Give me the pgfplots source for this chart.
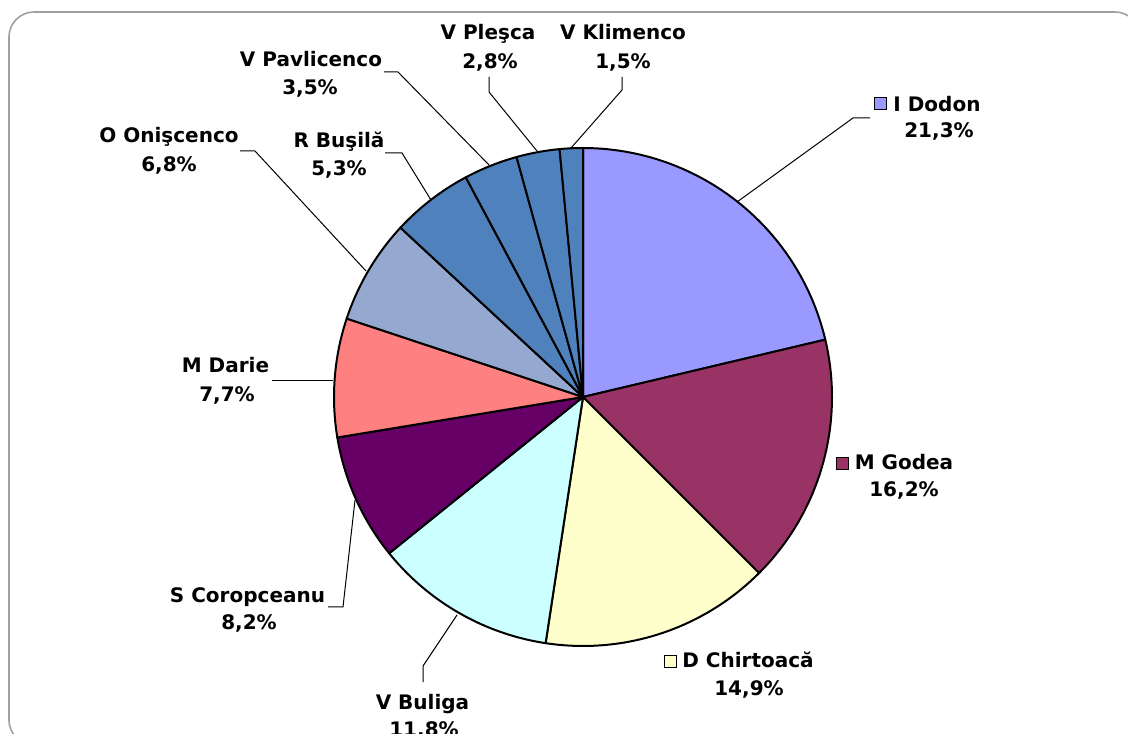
\documentclass[border=0pt]{standalone}
\usepackage{fontspec}
\setmainfont{DejaVu Sans}
\usepackage{pgfplots}
\usepackage{pgfplotstable}
\pgfplotsset{compat=1.18}

\definecolor{sc0}{HTML}{9999FF}
\definecolor{sc1}{HTML}{993366}
\definecolor{sc2}{HTML}{FFFFCC}
\definecolor{sc3}{HTML}{CCFFFF}
\definecolor{sc4}{HTML}{660066}
\definecolor{sc5}{HTML}{FF8080}
\definecolor{sc6}{HTML}{95A9D0}
\definecolor{sc7}{HTML}{4F81BD}
\definecolor{sc8}{HTML}{4F81BD}
\definecolor{sc9}{HTML}{4F81BD}
\definecolor{sc10}{HTML}{4F81BD}
\definecolor{framegray}{HTML}{A0A0A0}

% candidate shares, clockwise from 12 o'clock
\pgfplotstableread{
name pct
IDodon 21.3
MGodea 16.2
DChirtoaca 14.9
VBuliga 11.8
SCoropceanu 8.2
MDarie 7.7
OOniscenco 6.8
RBusila 5.3
VPavlicenco 3.5
VPlesca 2.8
VKlimenco 1.5
}\piedata

\begin{document}
\begin{tikzpicture}[font=\fontsize{10}{12}\selectfont\bfseries]
\begin{axis}[
  x=0.5pt, y=0.5pt,
  xmin=0, xmax=1128, ymin=0, ymax=733,
  hide axis, clip=false,
  anchor=south west, at={(0,0)},
]
% frame
\draw[framegray, line width=0.8pt, rounded corners=12.5pt]
  (axis cs:9,721) rectangle (axis cs:1140,-12);

% slices
\def\cum{0}
\pgfplotsforeachungrouped \i in {0,...,10}{%
  \pgfplotstablegetelem{\i}{pct}\of\piedata
  \let\p\pgfplotsretval
  \pgfmathsetmacro\a{\cum}%
  \pgfmathsetmacro\b{\cum+\p}%
  \edef\doslice{\noexpand\addplot[fill=sc\i, draw=black, line width=1pt,
     line join=round, domain=\a:\b, samples=40]
     ({583+249*cos(90-3.6*x)},{336+249*sin(90-3.6*x)}) -- (axis cs:583,336) -- cycle;}%
  \doslice
  \global\let\cum\b
}

% leader lines
\draw[black, line width=0.5pt] (axis cs:737,531) -- (axis cs:853,615) -- (axis cs:870,615);
\draw[black, line width=0.5pt] (axis cs:457,118) -- (axis cs:423,67) -- (axis cs:423,51);
\draw[black, line width=0.5pt] (axis cs:355,233) -- (axis cs:343,126) -- (axis cs:328,126);
\draw[black, line width=0.5pt] (axis cs:333,352) -- (axis cs:272,352);
\draw[black, line width=0.5pt] (axis cs:366,462) -- (axis cs:255,582) -- (axis cs:240,582);
\draw[black, line width=0.5pt] (axis cs:431,533) -- (axis cs:402,580) -- (axis cs:385,580);
\draw[black, line width=0.5pt] (axis cs:490,567) -- (axis cs:398,661) -- (axis cs:384,661);
\draw[black, line width=0.5pt] (axis cs:537,582) -- (axis cs:489,641) -- (axis cs:489,656);
\draw[black, line width=0.5pt] (axis cs:571,585) -- (axis cs:622,643) -- (axis cs:622,656);

% legend keys
\draw[black, line width=0.5pt, fill=sc0] (axis cs:874,635) rectangle (axis cs:886,623);
\draw[black, line width=0.5pt, fill=sc1] (axis cs:836,275) rectangle (axis cs:848,263);
\draw[black, line width=0.5pt, fill=sc2] (axis cs:664,78) rectangle (axis cs:676,66);

% labels
\tikzset{lab/.style={anchor=base, inner sep=0pt}}
\node[lab] at (axis cs:937,621) {I Dodon};
\node[lab] at (axis cs:939,595) {21,3\%};
\node[lab] at (axis cs:904,263) {M Godea};
\node[lab] at (axis cs:904,236) {16,2\%};
\node[lab] at (axis cs:748,66) {D Chirtoacă};
\node[lab] at (axis cs:749,38) {14,9\%};
\node[lab] at (axis cs:422.5,24) {V Buliga};
\node[lab] at (axis cs:424,-3) {11,8\%};
\node[lab] at (axis cs:247.5,131) {S Coropceanu};
\node[lab] at (axis cs:249,104) {8,2\%};
\node[lab] at (axis cs:225.5,360) {M Darie};
\node[lab] at (axis cs:227,331) {7,7\%};
\node[lab] at (axis cs:169,590) {O Onişcenco};
\node[lab] at (axis cs:169,561) {6,8\%};
\node[lab] at (axis cs:339,585) {R Buşilă};
\node[lab] at (axis cs:339,557) {5,3\%};
\node[lab] at (axis cs:311,666) {V Pavlicenco};
\node[lab] at (axis cs:310,638) {3,5\%};
\node[lab] at (axis cs:488,693) {V Pleşca};
\node[lab] at (axis cs:490,664) {2,8\%};
\node[lab] at (axis cs:623,693) {V Klimenco};
\node[lab] at (axis cs:623,664) {1,5\%};
\end{axis}
\pgfresetboundingbox
\useasboundingbox (0,0) rectangle (564pt,366.5pt);
\end{tikzpicture}
\end{document}
